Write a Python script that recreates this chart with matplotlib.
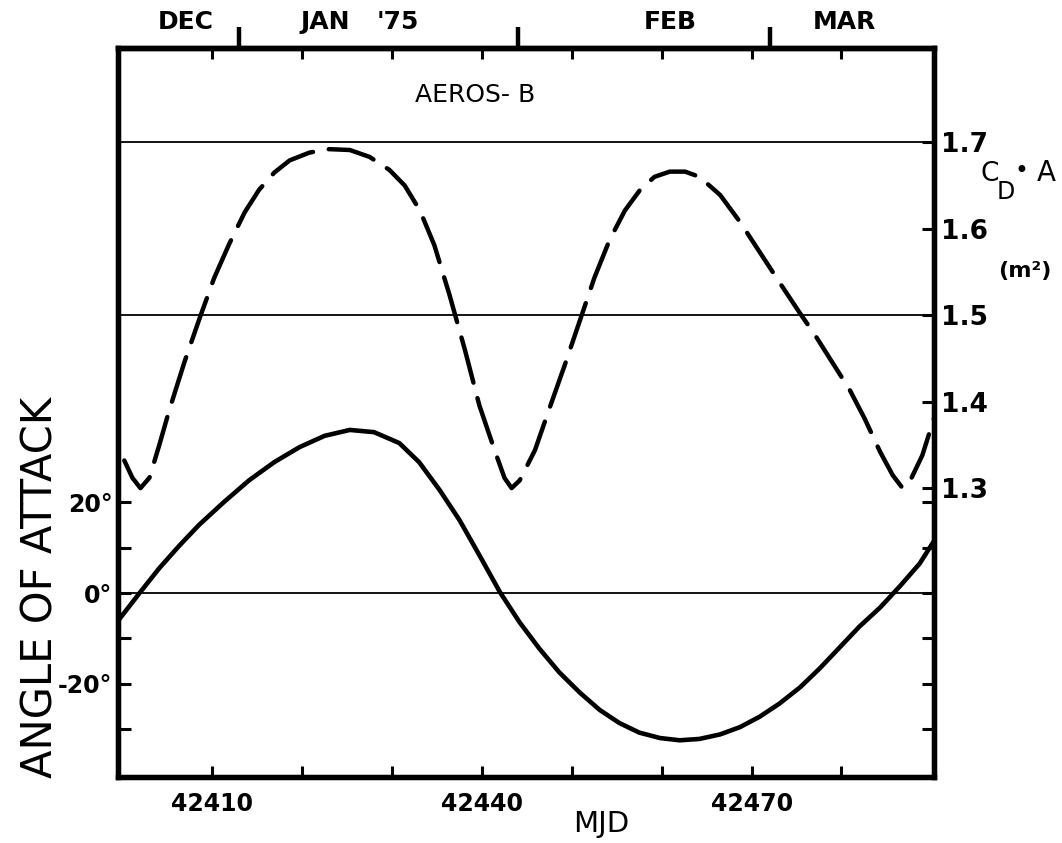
import matplotlib
matplotlib.use("Agg")
import matplotlib.pyplot as plt
from matplotlib.ticker import FixedLocator, FixedFormatter

# Angle of attack (degrees) versus MJD
mjd_aoa = [42399.4, 42401.9, 42404.1, 42406.3, 42408.5, 42411.3, 42414.1, 42416.9,
           42419.7, 42422.5, 42425.3, 42428.0, 42430.8, 42433.0, 42435.3, 42437.5,
           42439.7, 42442.0, 42444.2, 42446.4, 42448.6, 42450.9, 42453.1, 42455.3,
           42457.5, 42459.8, 42462.0, 42464.2, 42466.5, 42468.7, 42470.9, 42473.1,
           42475.4, 42477.6, 42479.8, 42482.0, 42484.3, 42486.5, 42488.7, 42490.3]
aoa_deg = [-6.4, 0.0, 5.5, 10.4, 15.0, 20.1, 24.9, 28.9,
           32.2, 34.7, 36.0, 35.5, 33.1, 28.9, 22.7, 16.1,
           8.4, 0.2, -6.5, -12.3, -17.5, -22.0, -25.8, -28.7,
           -30.8, -32.0, -32.5, -32.2, -31.2, -29.6, -27.3, -24.4,
           -20.8, -16.6, -12.0, -7.4, -3.2, 1.5, 6.5, 11.5]

# Drag coefficient times area (m^2) versus MJD
mjd_cda = [42400.2, 42401.1, 42402.0, 42403.0, 42404.1, 42405.2, 42406.9, 42408.6,
           42410.2, 42411.9, 42413.6, 42415.2, 42416.9, 42418.6, 42420.8, 42423.0,
           42425.3, 42427.5, 42429.7, 42431.4, 42433.1, 42434.7, 42436.4, 42438.1,
           42439.7, 42441.4, 42442.5, 42443.3, 42444.2, 42445.9, 42447.5, 42449.2,
           42450.9, 42452.5, 42454.2, 42455.9, 42457.6, 42459.2, 42460.9, 42462.6,
           42464.2, 42466.5, 42468.7, 42470.9, 42473.1, 42475.4, 42477.0, 42478.7,
           42480.9, 42482.6, 42484.3, 42485.7, 42486.8, 42487.8, 42489.0, 42490.3]
cda_m2 = [1.332, 1.312, 1.300, 1.312, 1.350, 1.390, 1.446, 1.497,
          1.543, 1.583, 1.619, 1.645, 1.665, 1.679, 1.688, 1.692,
          1.691, 1.683, 1.668, 1.650, 1.621, 1.581, 1.523, 1.460,
          1.396, 1.344, 1.312, 1.300, 1.309, 1.344, 1.392, 1.442,
          1.494, 1.543, 1.587, 1.621, 1.645, 1.660, 1.666, 1.666,
          1.660, 1.639, 1.608, 1.573, 1.538, 1.502, 1.478, 1.450,
          1.414, 1.380, 1.342, 1.315, 1.300, 1.312, 1.338, 1.381]

mjd_ticks = [42410, 42420, 42430, 42440, 42450, 42460, 42470, 42480]
mjd_labels = ["42410", "", "", "42440", "", "", "42470", ""]
aoa_ticks = [-30, -20, -10, 0, 10, 20]
aoa_labels = ["", "-20°", "", "0°", "", "20°"]
cda_ticks = [1.3, 1.4, 1.5, 1.6, 1.7]
cda_labels = ["1.3", "1.4", "1.5", "1.6", "1.7"]
cda_ref_lines = [1.5, 1.7]
month_bounds = [42413, 42444, 42472]
month_names = ["DEC", "JAN", "'75", "FEB", "MAR"]
month_name_pos = [42407.0, 42422.5, 42430.6, 42460.9, 42480.3]

fig = plt.figure(figsize=(10.62, 8.43), dpi=100)
ax = fig.add_axes([0.1111, 0.0783, 0.7684, 0.8648])
ax2 = ax.twinx()

ax.set_xlim(42399.5, 42490.3)
ax.set_ylim(-40.6, 120.3)
ax2.set_ylim(0.966, 1.809)

# curves
ax.plot(mjd_aoa, aoa_deg, color="black", lw=3.3, solid_capstyle="round",
        solid_joinstyle="round")
ax2.plot(mjd_cda, cda_m2, color="black", lw=3.2, linestyle=(0, (10.5, 3.6)),
         dash_capstyle="round", dash_joinstyle="round")

# reference lines
ax.axhline(0, color="black", lw=1.3)
for v in cda_ref_lines:
    ax2.axhline(v, color="black", lw=1.3)

# frame
for a in (ax, ax2):
    for s in a.spines.values():
        s.set_linewidth(3.8)

bold = dict(fontweight="bold", family="DejaVu Sans")

# x axis
ax.xaxis.set_major_locator(FixedLocator(mjd_ticks))
ax.xaxis.set_major_formatter(FixedFormatter(mjd_labels))
ax.tick_params(axis="x", which="major", direction="in", length=8, width=2.2,
               top=True, bottom=True, labelsize=17, pad=11)
for lab in ax.get_xticklabels():
    lab.set_fontweight("bold")

# left axis
ax.yaxis.set_major_locator(FixedLocator(aoa_ticks))
ax.yaxis.set_major_formatter(FixedFormatter(aoa_labels))
ax.tick_params(axis="y", which="major", direction="in", length=9, width=2.2,
               left=True, right=True, labelsize=17, pad=4)
for lab in ax.get_yticklabels():
    lab.set_fontweight("bold")

# right axis
ax2.yaxis.set_major_locator(FixedLocator(cda_ticks))
ax2.yaxis.set_major_formatter(FixedFormatter(cda_labels))
ax2.tick_params(axis="y", direction="in", length=9, width=2.2, labelsize=19, pad=5)
for lab in ax2.get_yticklabels():
    lab.set_fontweight("bold")

# month boundary ticks on top
top = ax.secondary_xaxis("top")
top.set_xticks(month_bounds)
top.set_xticklabels([])
top.tick_params(direction="out", length=15, width=3.2)
top.spines["top"].set_linewidth(3.8)

trans = ax.get_xaxis_transform()
for name, xpos in zip(month_names, month_name_pos):
    ax.text(xpos, 1.036, name, transform=trans, ha="center", va="center",
            fontsize=18, **bold)

# annotations
ax.text(0.4375, 0.9355, "AEROS- B", transform=ax.transAxes, ha="center",
        va="center", fontsize=18, family="DejaVu Sans")
fig.text(0.932, 0.794, "C", fontsize=19, ha="center", va="center")
fig.text(0.947, 0.772, "D", fontsize=17, ha="center", va="center")
fig.text(0.962, 0.797, "•", fontsize=17, ha="center", va="center")
fig.text(0.985, 0.795, "A", fontsize=20, ha="center", va="center")
fig.text(0.965, 0.678, "(m²)", fontsize=16, ha="center", va="center",
         fontweight="bold")

fig.text(0.038, 0.303, "ANGLE OF ATTACK", rotation=90, ha="center", va="center",
         fontsize=30, family="DejaVu Sans")
fig.text(0.566, 0.022, "MJD", ha="center", va="center", fontsize=21,
         family="DejaVu Sans")

fig.savefig("out.png", dpi=100, facecolor="white")
